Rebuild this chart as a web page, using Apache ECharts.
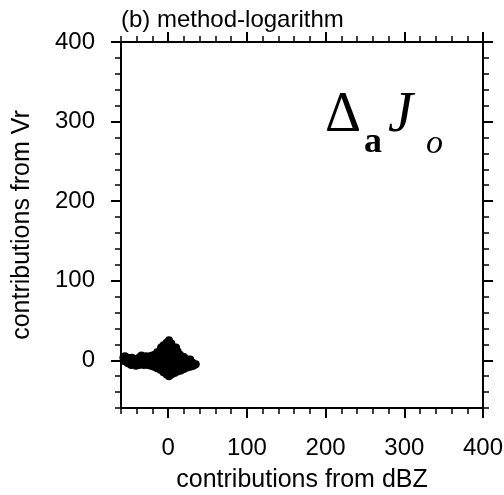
<!DOCTYPE html>
<html>
<head>
<meta charset="utf-8">
<script src="https://cdn.jsdelivr.net/npm/echarts@6/dist/echarts.min.js"></script>
<style>
  html, body { margin: 0; padding: 0; background: #fff; }
  #chart { width: 504px; height: 495px; }
</style>
</head>
<body>
<div id="chart"></div>
<script>
// data: contributions from dBZ (x) vs from Vr (y)
var bandPoints = [
  [-57, 3], [-56, -1], [-55, 5], [-53, 1], [-52, -3], [-51, 3], [-50, -4], [-48, 0],
  [-47, -6], [-46, 3], [-45, -2], [-43, -5], [-42, 1], [-41, -7], [-40, 2], [-39, -4],
  [-38, -1], [-37, -6], [-36, 4], [-35, 0], [-34, 6], [-33, -3], [-32, 3], [-31, -6],
  [-30, 1], [-29, -4], [-28, 5], [-27, -1], [-26, -6], [-25, 2], [-24, -3], [-23, 5],
  [-22, -7], [-21, 0], [-20, 6], [-20, -4]
];
var corePoints = [
  [-18, -8], [-17, -3], [-18, 2], [-17, 7],
  [-14, -10], [-15, -5], [-14, 0], [-13, 5], [-14, 10],
  [-10, -12], [-11, -7], [-10, -2], [-9, 3], [-11, 8], [-10, 13], [-9, 16],
  [-6, -15], [-7, -10], [-6, -5], [-5, 0], [-7, 5], [-6, 10], [-5, 15], [-6, 19],
  [-2, -18], [-3, -13], [-2, -8], [-1, -3], [-3, 2], [-2, 7], [-1, 12], [-2, 17], [-2, 22],
  [1, -20], [0, -15], [2, -10], [1, -5], [0, 0], [2, 5], [1, 10], [0, 15], [2, 20], [1, 25],
  [4, -18], [5, -13], [4, -8], [3, -3], [5, 2], [4, 7], [3, 12], [5, 17], [4, 21],
  [8, -16], [7, -11], [9, -6], [8, -1], [7, 4], [9, 9], [8, 14], [10, 16],
  [12, -14], [13, -9], [11, -4], [12, 1], [13, 6], [12, 11],
  [16, -13], [15, -8], [17, -3], [16, 2], [15, 7],
  [20, -11], [19, -6], [21, -1], [20, 4],
  [24, -9], [23, -4], [25, 1],
  [28, -8], [27, -3], [28, 1],
  [32, -7], [31, -3],
  [35, -5]
];
var majorTicks = [0, 100, 200, 300, 400];
var minorTicks = [-60, -40, -20, 20, 40, 60, 80, 120, 140, 160, 180, 220, 240, 260, 280, 320, 340, 360, 380];

var chart = echarts.init(document.getElementById('chart'));
var font = '"Liberation Sans", Arial, sans-serif';

function mainAxis(pos, name, showLabel) {
  var isX = (pos === 'bottom' || pos === 'top');
  return {
    type: 'value', position: pos, min: -60, max: 400,
    name: name, nameLocation: 'middle',
    nameGap: isX ? 60 : 86,
    nameTextStyle: { fontSize: 25, fontFamily: font, color: '#000' },
    axisLine: { show: true, onZero: false, lineStyle: { color: '#000', width: 2 } },
    axisTick: { show: true, customValues: majorTicks, length: 10, lineStyle: { color: '#000', width: 2 } },
    axisLabel: { show: showLabel, customValues: majorTicks, fontSize: 24, fontFamily: font, color: '#000', margin: isX ? 28 : 26 },
    splitLine: { show: false }
  };
}
function minorAxis(pos) {
  return {
    type: 'value', position: pos, min: -60, max: 400,
    axisLine: { show: false, onZero: false },
    axisTick: { show: true, customValues: minorTicks, length: 6, lineStyle: { color: '#000', width: 1.5 } },
    axisLabel: { show: false },
    splitLine: { show: false }
  };
}

option = {
  animation: false,
  backgroundColor: '#fff',
  title: {
    text: '(b) method-logarithm',
    left: 116, top: 3,
    textStyle: { fontSize: 24, fontWeight: 'normal', fontFamily: font, color: '#000' }
  },
  grid: { left: 121, right: 21, top: 42, bottom: 87, containLabel: false, outerBoundsMode: 'none' },
  xAxis: [
    mainAxis('bottom', 'contributions from dBZ', true),
    minorAxis('bottom'),
    mainAxis('top', '', false),
    minorAxis('top')
  ],
  yAxis: [
    mainAxis('left', 'contributions from Vr', true),
    minorAxis('left'),
    mainAxis('right', '', false),
    minorAxis('right')
  ],
  graphic: [
    { type: 'text', x: 325, y: 144, style: { text: 'Δ', font: '56px "Liberation Serif", "Times New Roman", serif', fill: '#000', verticalAlign: 'bottom' } },
    { type: 'text', x: 364, y: 161, style: { text: 'a', font: 'bold 36px "Liberation Serif", "Times New Roman", serif', fill: '#000', verticalAlign: 'bottom' } },
    { type: 'text', x: 388, y: 144, style: { text: 'J', font: 'italic 56px "Liberation Serif", "Times New Roman", serif', fill: '#000', verticalAlign: 'bottom' } },
    { type: 'text', x: 426, y: 161, style: { text: 'o', font: 'italic 34px "Liberation Serif", "Times New Roman", serif', fill: '#000', verticalAlign: 'bottom' } }
  ],
  series: [
    {
      type: 'scatter', xAxisIndex: 0, yAxisIndex: 0,
      symbol: 'circle', symbolSize: 8,
      itemStyle: { color: '#000', opacity: 1 },
      data: bandPoints.concat(corePoints)
    }
  ]
};
chart.setOption(option);
</script>
</body>
</html>
